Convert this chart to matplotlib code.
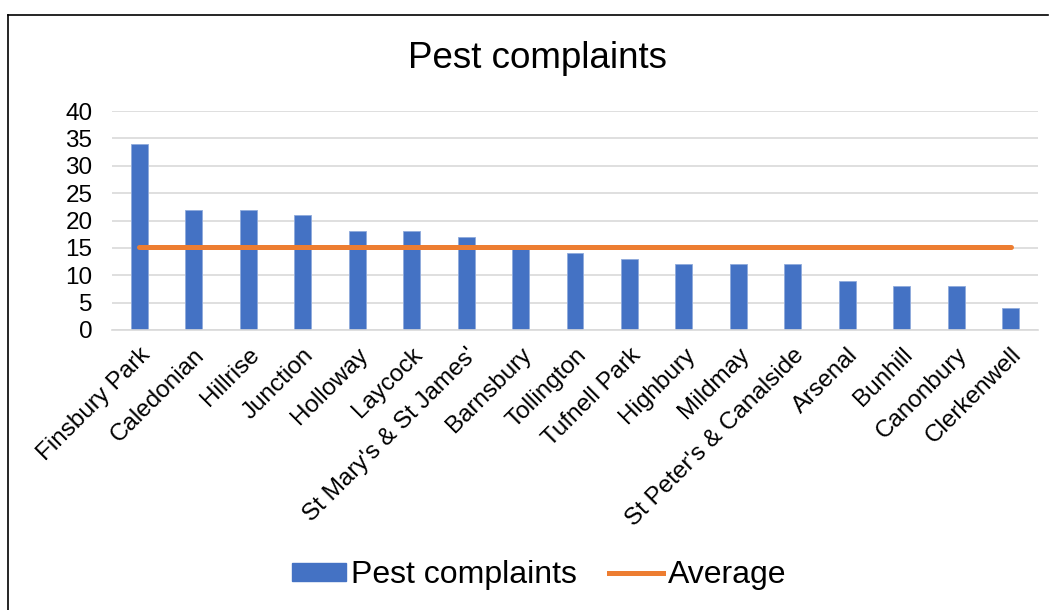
import matplotlib
matplotlib.use("Agg")
import matplotlib.pyplot as plt
import numpy as np
from matplotlib.lines import Line2D

plt.rcParams['font.family'] = ['Liberation Sans', 'DejaVu Sans']

# data
wards = ['Finsbury Park', 'Caledonian', 'Hillrise', 'Junction', 'Holloway', 'Laycock',
         "St Mary's & St James'", 'Barnsbury', 'Tollington', 'Tufnell Park', 'Highbury',
         'Mildmay', "St Peter's & Canalside", 'Arsenal', 'Bunhill', 'Canonbury', 'Clerkenwell']
complaints = [34, 22, 22, 21, 18, 18, 17, 15, 14, 13, 12, 12, 12, 9, 8, 8, 4]
average = [15.2] * len(wards)

bar_color = '#4472C4'
line_color = '#ED7D31'

W, H = 1054, 610
fig = plt.figure(figsize=(W / 100, H / 100), dpi=100)
ax = fig.add_axes([112 / W, 1 - 330 / H, (1038 - 112) / W, (330 - 111) / H])

x = np.arange(len(wards))
ax.bar(x, complaints, width=0.31, color=bar_color, edgecolor='#8FAADC', linewidth=0.6,
       zorder=2, label='Pest complaints')
ax.plot(x, average, color=line_color, linewidth=3.6, solid_capstyle='round',
        zorder=3, label='Average')

ax.set_xlim(-0.5, len(wards) - 0.5)
ax.set_ylim(0, 40)
ax.set_yticks(range(0, 41, 5))
ax.set_xticks(x)
ax.set_xticklabels(wards, rotation=45, ha='right', rotation_mode='anchor', fontsize=17.5)
ax.tick_params(axis='y', labelsize=17.5, length=0, pad=14)
ax.tick_params(axis='x', length=0, pad=10)

ax.grid(True, axis='y', color='#D9D9D9', linewidth=1.2, zorder=0)
for s in ['top', 'right', 'left']:
    ax.spines[s].set_visible(False)
ax.spines['bottom'].set_color('#D9D9D9')
ax.spines['bottom'].set_linewidth(1.2)
ax.set_axisbelow(True)

fig.text(537 / W, 1 - 58 / H, 'Pest complaints', ha='center', va='center', fontsize=26.5)

handles = [plt.Rectangle((0, 0), 1, 1, color=bar_color),
           Line2D([0], [0], color=line_color, linewidth=3.6)]
fig.legend(handles, ['Pest complaints', 'Average'], loc='center',
           bbox_to_anchor=(539 / W, 1 - 575 / H), ncol=2, frameon=False,
           fontsize=23, handlelength=1.7, handleheight=0.5,
           handletextpad=0.15, columnspacing=1.0)

# chart border (top and left edges visible)
fig.add_artist(Line2D([8 / W, 1048 / W], [1 - 15 / H, 1 - 15 / H], color='black', linewidth=1.2))
fig.add_artist(Line2D([8 / W, 8 / W], [1 - 15 / H, 0], color='black', linewidth=1.2))

fig.savefig('out.png', dpi=100)
